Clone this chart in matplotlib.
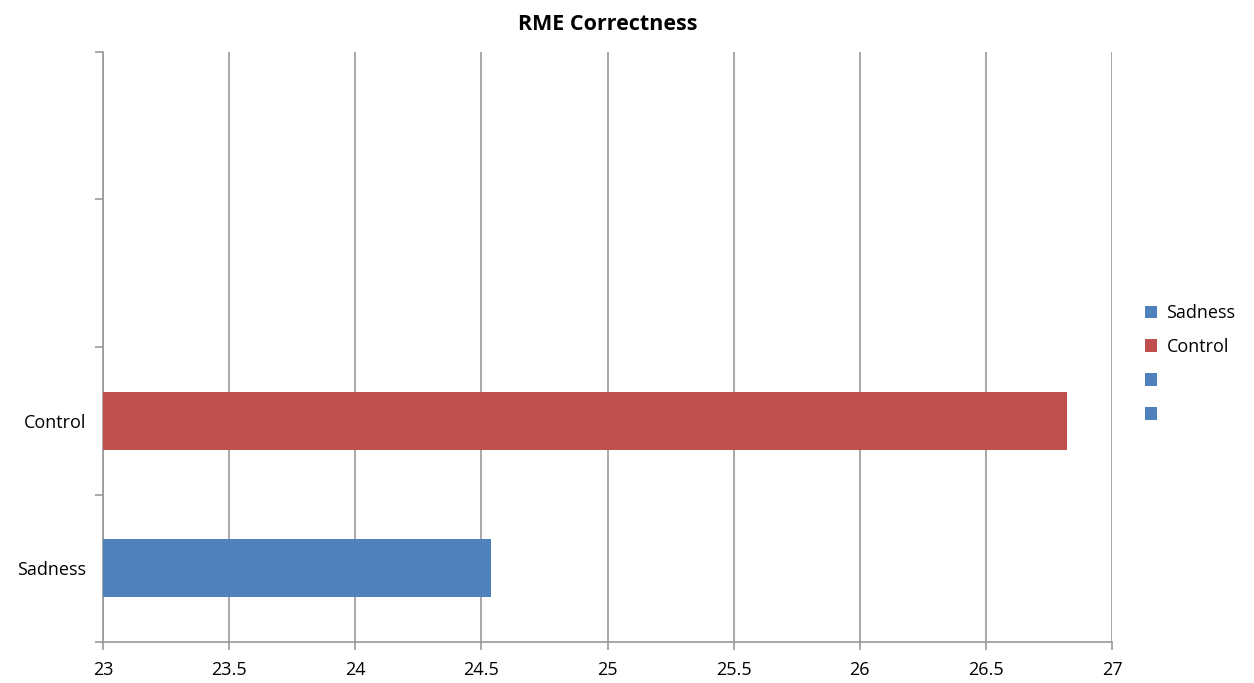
import matplotlib.pyplot as plt
from matplotlib.patches import Patch
from matplotlib.ticker import FixedLocator

# data
categories = ['Sadness', 'Control', '', '']
values = [24.54, 26.82]
colors = ['#4F81BD', '#C0504D', '#4F81BD', '#4F81BD']

plt.rcParams['font.family'] = ['Open Sans', 'DejaVu Sans']

fig = plt.figure(figsize=(12.54, 6.83), dpi=100)
ax = fig.add_axes([0.0821, 0.0600, 0.8047, 0.8639])

base = 23
ax.barh(range(len(values)), [v - base for v in values], left=base,
        height=0.39, color=colors[:len(values)], zorder=3)

ax.set_xlim(23, 27)
ax.set_ylim(-0.5, len(categories) - 0.5)
ax.set_xticks([23 + 0.5 * i for i in range(9)])
ax.set_xticklabels(['23', '23.5', '24', '24.5', '25', '25.5', '26', '26.5', '27'], fontsize=13)
ax.xaxis.grid(True, color='#999999', linewidth=1.2, zorder=0)

# category boundaries as major ticks, labels on minor ticks
ax.yaxis.set_major_locator(FixedLocator([i - 0.5 for i in range(len(categories) + 1)]))
ax.yaxis.set_minor_locator(FixedLocator(range(len(categories))))
ax.set_yticklabels([], minor=False)
ax.set_yticklabels(categories, minor=True, fontsize=13)
ax.tick_params(axis='y', which='major', length=6, color='#999999', width=1.2)
ax.tick_params(axis='y', which='minor', length=0, pad=12)
ax.tick_params(axis='x', length=6, color='#999999', width=1.2, pad=8)

for s in ['top', 'right']:
    ax.spines[s].set_visible(False)
for s in ['left', 'bottom']:
    ax.spines[s].set_color('#999999')
    ax.spines[s].set_linewidth(1.2)

ax.set_title('RME Correctness', fontsize=15.5, fontweight='bold', pad=16)

handles = [Patch(facecolor=c) for c in colors]
fig.legend(handles, categories, loc='center left', bbox_to_anchor=(0.9, 0.467),
           frameon=False, fontsize=13, handlelength=0.7, handleheight=0.7,
           handletextpad=0.5, labelspacing=0.88)

fig.savefig('out.png', dpi=100)
